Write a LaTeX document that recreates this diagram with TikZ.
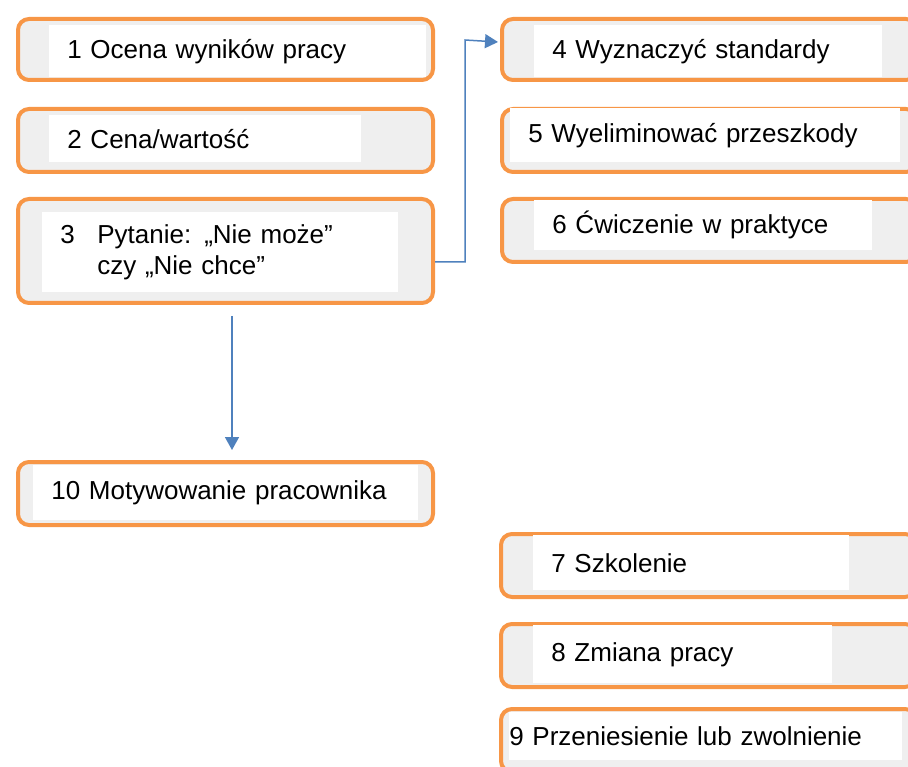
\documentclass[tikz,border=0pt]{standalone}
\usepackage{fontspec}
\setmainfont{Liberation Sans}
\usetikzlibrary{arrows.meta}

\definecolor{boxorange}{HTML}{F79646}
\definecolor{boxgrey}{HTML}{EFEFEF}
\definecolor{linkblue}{HTML}{4F81BD}

\tikzset{every picture/.style={line width=0.75pt}}
\tikzset{
  frame/.style={draw=boxorange, line width=4pt, fill=boxgrey, rounded corners=11pt,
    anchor=north west, minimum width=415pt, inner sep=0pt},
  pane/.style={fill=white, anchor=north west, inner xsep=18pt, inner ysep=0pt,
    align=left, font=\fontsize{26}{31}\selectfont},
  link/.style={draw=linkblue, line width=1.5pt, -{Triangle[width=14pt,length=13pt]}}
}

\begin{document}
\begin{tikzpicture}[x=1pt,y=-1pt]
  \clip (0,0) rectangle (908,767);

  %Shape: Frames, left column
  \node[frame, minimum height=61pt] (b1) at (16,17) {};
  \node[frame, minimum height=63pt] (b2) at (16,107) {};
  \node[frame, minimum height=104pt] (b3) at (16,197) {};
  \node[frame, minimum height=63pt] (b10) at (16,460) {};
  %Shape: Frames, right column
  \node[frame, minimum height=61pt] (b4) at (500,17) {};
  \node[frame, minimum height=63pt] (b5) at (500,107) {};
  \node[frame, minimum height=63pt] (b6) at (500,197) {};
  \node[frame, minimum height=63pt] (b7) at (499,532) {};
  \node[frame, minimum height=63pt] (b8) at (499,622) {};
  \node[frame, minimum height=63pt] (b9) at (499,707) {};

  % Text Node
  \node[pane, text width=341pt, minimum height=52pt] (p1) at (49,25) {1 Ocena wyników pracy};
  % Text Node
  \node[pane, text width=276pt, minimum height=47pt] (p2) at (49,115) {2 Cena/wartość};
  % Text Node
  \node[pane, text width=320pt, minimum height=80pt] (p3) at (42,212)
    {\makebox[37pt][l]{3}Pytanie: „Nie może”\\\hspace*{37pt}czy „Nie chce”};
  % Text Node
  \node[pane, text width=349pt, minimum height=55pt] (p10) at (33,465) {10 Motywowanie pracownika};
  % Text Node
  \node[pane, text width=312pt, minimum height=52pt] (p4) at (534,25) {4 Wyznaczyć standardy};
  % Text Node
  \node[pane, text width=354pt, minimum height=54pt] (p5) at (510,108) {5 Wyeliminować przeszkody};
  % Text Node
  \node[pane, text width=302pt, minimum height=50pt] (p6) at (534,200) {6 Ćwiczenie w praktyce};
  % Text Node
  \node[pane, text width=280pt, minimum height=55pt] (p7) at (533,535) {7 Szkolenie};
  % Text Node
  \node[pane, text width=263pt, minimum height=58pt] (p8) at (533,625) {8 Zmiana pracy};
  % Text Node
  \node[pane, inner xsep=0pt, text width=393pt, minimum height=48pt] (p9) at (509,712) {9 Przeniesienie lub zwolnienie};

  %Connectors
  \coordinate (bend) at (465,40);
  \draw[link] ([yshift=-11pt]b3.east) -| (bend) -- ([xshift=-2pt,yshift=7.5pt]b4.west);
  \draw[link] ([xshift=6.5pt,yshift=-11pt]b3.south) -- ([xshift=6.5pt,yshift=10pt]b10.north);

\end{tikzpicture}
\end{document}
